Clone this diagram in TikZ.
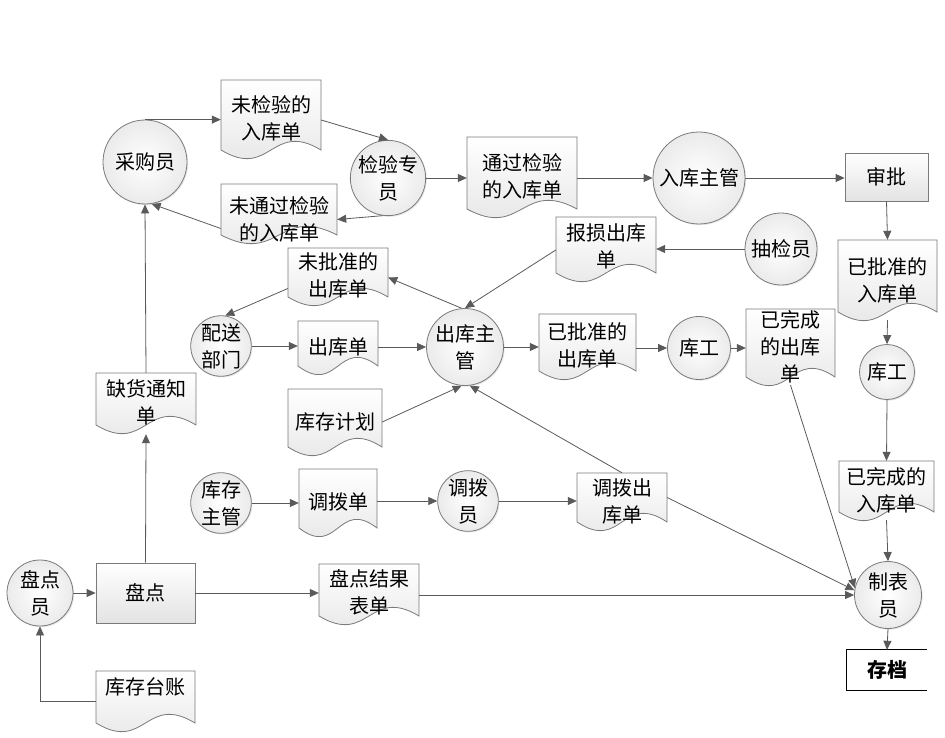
\documentclass[tikz,border=0pt]{standalone}
\usepackage{fontspec}
\setmainfont{Noto Sans CJK SC}
\usetikzlibrary{arrows.meta,calc,shadows}
\definecolor{lnc}{HTML}{5A5A5A}
\definecolor{bdc}{HTML}{7A7A7A}
\tikzset{
  txt/.style={font=\fontsize{20}{27}\selectfont, align=center, inner sep=0pt, text=black},
  docstyle/.style={draw=bdc, line width=0.8pt, top color=white, bottom color=gray!22},
  anchornode/.style={draw=none, inner sep=0pt, rectangle},
  circ/.style={circle, draw=bdc, line width=0.8pt, inner color=white, outer color=gray!16,
    inner sep=0pt, font=\fontsize{20}{27}\selectfont, align=center,
    drop shadow={opacity=0.18, shadow xshift=1.2pt, shadow yshift=-1.2pt}},
  rbox/.style={rectangle, draw=bdc, line width=0.8pt, top color=white, bottom color=gray!22,
    inner sep=0pt, font=\fontsize{20}{27}\selectfont, align=center},
  arr/.style={draw=lnc, line width=0.8pt, -{Triangle[length=9pt,width=8pt]}, color=lnc},
}
\newcommand\docbox[5]{%
  \path[docstyle] (#2,#5) -- (#2,#3) -- (#4,#3) -- (#4,#5)
     .. controls ({(#2+#4)/2},{#5-30}) and ({(#2+#4)/2},{#5+30}) .. (#2,#5) -- cycle;
  \node[anchornode, minimum width={(#4-#2)*1pt}, minimum height={(#5-#3)*1pt}] (#1) at ({(#2+#4)/2},{(#3+#5)/2}) {};
}
\begin{document}
\begin{tikzpicture}[x=1pt,y=-1pt]
\useasboundingbox[fill=white] (0,0) rectangle (945,738);

% documents
\docbox{d1}{221}{80}{321}{150}
\docbox{d2}{221}{184}{337}{235}
\docbox{d3}{467}{137}{577}{209}
\docbox{d4}{556}{217}{656}{273}
\docbox{d5}{838}{240}{937}{312}
\docbox{d6}{288}{248}{388}{297}
\docbox{d7}{298}{321}{378}{366}
\docbox{d8}{288}{389}{382}{447}
\docbox{d9}{539}{314}{636}{371}
\docbox{d10}{746}{309}{835}{377}
\docbox{d11}{839}{461}{934}{512}
\docbox{d12}{577}{473}{667}{522}
\docbox{d13}{96}{373}{196}{425}
\docbox{d14}{299}{469}{377}{528}
\docbox{d15}{319}{564}{419}{616}
\docbox{d16}{96}{671}{195}{723}

\node[txt] (d1t) at (271,118) {未检验的\\入库单};
\node[txt] (d2t) at (279,219) {未通过检验\\的入库单};
\node[txt] (d3t) at (522,176) {通过检验\\的入库单};
\node[txt] (d4t) at (606,246) {报损出库\\单};
\node[txt] (d5t) at (887,280) {已批准的\\入库单};
\node[txt] (d6t) at (338,275) {未批准的\\出库单};
\node[txt] (d7t) at (338,347) {出库单};
\node[txt] (d8t) at (335,422) {库存计划};
\node[txt] (d9t) at (587,345) {已批准的\\出库单};
\node[txt] (d10t) at (790,347) {已完成\\的出库\\单};
\node[txt] (d11t) at (886,490) {已完成的\\入库单};
\node[txt] (d12t) at (622,501) {调拨出\\库单};
\node[txt] (d13t) at (146,402) {缺货通知\\单};
\node[txt] (d14t) at (338,502) {调拨单};
\node[txt] (d15t) at (369,592) {盘点结果\\表单};
\node[txt] (d16t) at (145,687) {库存台账};

% circles
\node[circ, minimum size=84pt] (cg) at (145,162) {采购员};
\node[circ, minimum size=74pt] (jy) at (388,178) {检验专\\员};
\node[circ, minimum size=92pt] (rk) at (699,178) {入库主管};
\node[circ, minimum size=72pt] (cj) at (781,249) {抽检员};
\node[circ, minimum size=58pt] (ps) at (221,346) {配送\\部门};
\node[circ, minimum size=77pt] (ck) at (465,347) {出库主\\管};
\node[circ, minimum size=63pt] (kg1) at (699,348) {库工};
\node[circ, minimum size=55pt] (kg2) at (887,372) {库工};
\node[circ, minimum size=59pt] (kz) at (221,503) {库存\\主管};
\node[circ, minimum size=58pt] (dby) at (468,501) {调拨\\员};
\node[circ, minimum size=66pt] (pdy) at (40,593) {盘点\\员};
\node[circ, minimum size=67pt] (zb) at (888,595) {制表\\员};

% rectangles
\node[rbox, minimum width=83pt, minimum height=48pt] (sp) at (886.5,177) {审批};
\node[rbox, minimum width=99pt, minimum height=60pt] (pd) at (145.5,593) {盘点};
\node[inner sep=0pt, minimum width=80pt, minimum height=40pt, font=\fontsize{20}{27}\selectfont\bfseries] (cd) at (887,670) {存档};
\draw[black, line width=0.8pt] (cd.north east) -- (cd.north west) -- (cd.south west) -- (cd.south east);

% connectors
\draw[arr] (cg.north) -- (cg.north -| d1.west);
\draw[arr] ($(d1.east)+(0,5)$) -- (jy.north);
\draw[arr] (jy.east) -- (jy.east -| d3.west);
\draw[arr] (jy.-98) -- ($(d2.east)+(0,10)$);
\draw[arr] ($(d2.west)+(0,19)$) -- (cg.-81);
\draw[arr] (rk.west -| d3.east) -- (rk.west);
\draw[arr] (rk.east) -- (rk.east -| sp.west);
\draw[arr] (sp.south) -- (d5.north);
\draw[arr] (cj.west) -- (cj.west -| d4.east);
\draw[arr] ($(d4.west)+(0,5)$) -- (ck.north);
\draw[arr] (ck.95) -- ($(d6.east)+(0,5)$);
\draw[arr] ($(d6.west)+(0,16)$) -- (ps.82);
\draw[arr] (ps.east) -- (ps.east -| d7.west);
\draw[arr] (d7.east |- ck.west) -- (ck.west);
\draw[arr] ($(d8.east)+(0,4)$) -- (ck.-95);
\draw[arr] (d12.north) -- (ck.-83);
\draw[arr] (ck.east) -- (ck.east -| d9.west);
\draw[arr] (d9.east |- kg1.west) -- (kg1.west);
\draw[arr] (kg1.east) -- (kg1.east -| d10.west);
\draw[arr] ($(d10.south)+(0,8)$) -- (zb.168);
\draw[arr] ($(d5.south)+(0,8)$) -- (kg2.north);
\draw[arr] (kg2.south) -- (d11.north);
\draw[arr] ($(d11.south)+(0,8)$) -- (zb.north);
\draw[arr] (zb.south) -- (cd.north);
\draw[arr] (kz.east) -- (kz.east -| d14.west);
\draw[arr] (d14.east |- dby.west) -- (dby.west);
\draw[arr] (dby.east) -- (dby.east -| d12.west);
\draw[arr] (d12.east) -- (zb.172);
\draw[arr] (pdy.east) -- (pdy.east -| pd.west);
\draw[arr] (pd.east) -- (pd.east -| d15.west);
\draw[arr] (d15.east |- zb.west) -- (zb.west);
\draw[arr] ($(d16.west)+(0,4)$) -| (pdy.south);
\draw[arr] (pd.north) -- ($(d13.south)+(0,9)$);
\draw[arr] (d13.north) -- (cg.south);
\end{tikzpicture}
\end{document}
